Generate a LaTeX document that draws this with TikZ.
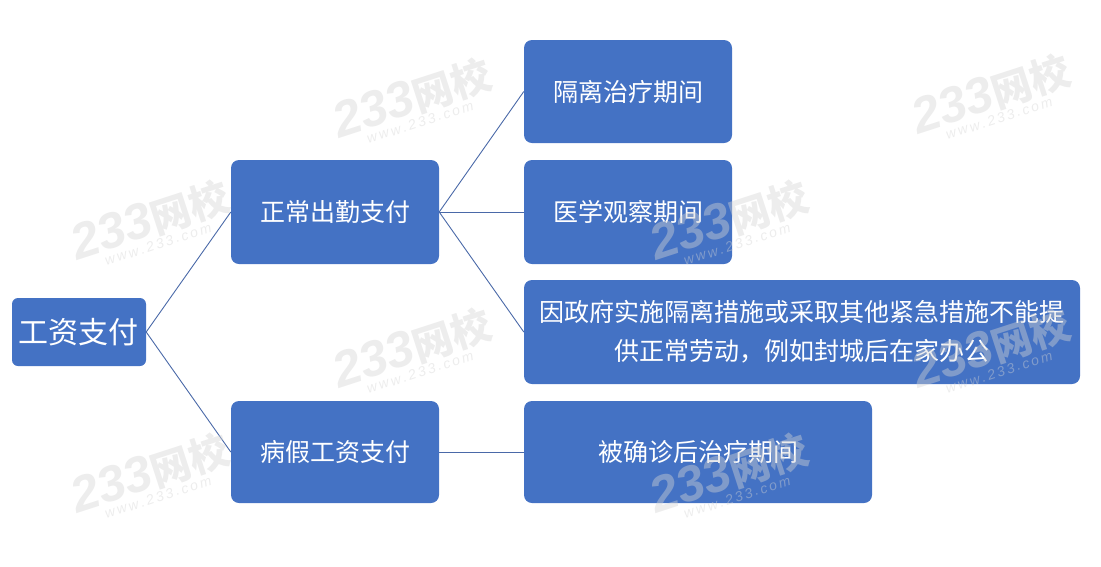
\documentclass[tikz,border=0pt]{standalone}
\usepackage{fontspec}
\setmainfont{Noto Sans CJK SC}
\newfontfamily\wmfont{Liberation Sans}
\definecolor{boxblue}{HTML}{4472C4}
\definecolor{linkblue}{HTML}{4A69A8}
\definecolor{wmgray}{HTML}{D4D4D4}
\tikzset{
  paybox/.style={fill=boxblue,text=white,rounded corners=8pt,inner sep=0pt,align=center,font=\fontsize{25}{39}\selectfont},
  paylink/.style={draw=linkblue,line width=0.9pt},
  wmark/.style={text=wmgray,text opacity=0.42,rotate=18,inner sep=0pt}
}
\begin{document}
\begin{tikzpicture}[x=1pt,y=-1pt]
\useasboundingbox (0,0) rectangle (1101,566);

\node[paybox,rounded corners=6pt,minimum width=134pt,minimum height=68pt,font=\fontsize{30}{36}\selectfont] (root) at (79,332) {工资支付};
\node[paybox,minimum width=208pt,minimum height=104pt] (normal) at (335,212) {正常出勤支付};
\node[paybox,minimum width=208pt,minimum height=102pt] (sick) at (335,452) {病假工资支付};
\node[paybox,minimum width=208pt,minimum height=103pt] (isolate) at (628,91.5) {隔离治疗期间};
\node[paybox,minimum width=208pt,minimum height=104pt] (observe) at (628,212) {医学观察期间};
\node[paybox,minimum width=556pt,minimum height=104pt] (govern) at (802,332) {因政府实施隔离措施或采取其他紧急措施不能提\\供正常劳动，例如封城后在家办公};
\node[paybox,minimum width=348pt,minimum height=102pt] (treat) at (698,452) {被确诊后治疗期间};

\draw[paylink] (root.east)--(normal.west);
\draw[paylink] (root.east)--(sick.west);
\draw[paylink] (normal.east)--(isolate.west);
\draw[paylink] (normal.east)--(observe.west);
\draw[paylink] (normal.east)--(govern.west);
\draw[paylink] (sick.east)--(treat.west);

\foreach \i/\x/\y in {1/412/98,2/150/220,3/412/348,4/150/473,5/991/94,6/729/220,7/991/348,8/729/473}{
  \node[wmark] (mark\i) at (\x,\y) {{\wmfont\bfseries\itshape\fontsize{50}{50}\selectfont 233}{\bfseries\fontsize{40}{50}\selectfont 网校}};
  \node[wmark] (site\i) at ([shift={(8,24)}]mark\i.center) {\wmfont\itshape\fontsize{14}{16}\selectfont w\,w\,w\,.\,2\,3\,3\,.\,c\,o\,m};
}
\end{tikzpicture}
\end{document}
